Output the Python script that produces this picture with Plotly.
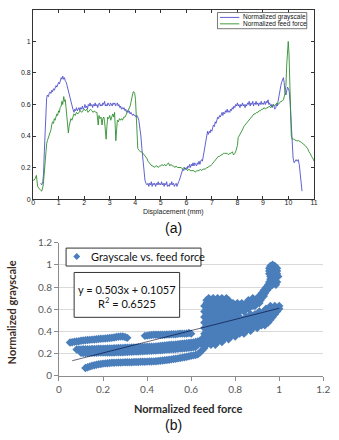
import plotly.graph_objects as go

W, H = 339, 440

# ---------------- data (a) ----------------
grayscale_pts = [(0.30,0.10),(0.34,0.09),(0.38,0.11),(0.41,0.16),(0.44,0.30),(0.47,0.45),(0.50,0.58),(0.53,0.64),(0.56,0.66),(0.60,0.65),(0.63,0.67),(0.66,0.68),(0.70,0.67),(0.73,0.69),(0.76,0.68),(0.80,0.70),(0.83,0.69),(0.86,0.71),(0.90,0.72),(0.93,0.71),(0.96,0.73),(1.00,0.74),(1.03,0.73),(1.06,0.75),(1.10,0.77),(1.13,0.76),(1.16,0.78),(1.20,0.76),(1.23,0.77),(1.26,0.75),(1.30,0.74),(1.33,0.72),(1.36,0.70),(1.40,0.67),(1.43,0.64),(1.46,0.62),(1.50,0.61),(1.53,0.58),(1.56,0.57),(1.60,0.55),(1.63,0.57),(1.66,0.56),(1.70,0.58),(1.73,0.56),(1.76,0.57),(1.80,0.58),(1.83,0.56),(1.86,0.58),(1.90,0.57),(1.93,0.59),(1.96,0.57),(2.00,0.58),(2.03,0.60),(2.06,0.58),(2.10,0.59),(2.13,0.57),(2.16,0.60),(2.20,0.59),(2.23,0.61),(2.26,0.59),(2.30,0.60),(2.33,0.58),(2.36,0.60),(2.40,0.59),(2.43,0.61),(2.46,0.59),(2.50,0.60),(2.53,0.58),(2.56,0.60),(2.60,0.61),(2.63,0.59),(2.66,0.60),(2.70,0.59),(2.73,0.61),(2.76,0.60),(2.80,0.62),(2.83,0.59),(2.86,0.60),(2.90,0.59),(2.93,0.61),(2.96,0.60),(3.00,0.59),(3.03,0.61),(3.06,0.60),(3.10,0.59),(3.13,0.61),(3.16,0.60),(3.20,0.61),(3.23,0.59),(3.26,0.60),(3.30,0.61),(3.33,0.59),(3.36,0.60),(3.40,0.58),(3.43,0.59),(3.46,0.57),(3.50,0.58),(3.53,0.57),(3.56,0.58),(3.60,0.56),(3.63,0.57),(3.66,0.55),(3.70,0.56),(3.73,0.55),(3.76,0.56),(3.80,0.54),(3.83,0.55),(3.86,0.54),(3.90,0.53),(3.93,0.54),(3.96,0.53),(4.00,0.53),(4.03,0.52),(4.06,0.53),(4.10,0.52),(4.14,0.50),(4.18,0.46),(4.22,0.40),(4.26,0.32),(4.30,0.24),(4.34,0.17),(4.38,0.12),(4.42,0.10),(4.46,0.09),(4.50,0.10),(4.53,0.08),(4.56,0.10),(4.60,0.09),(4.63,0.11),(4.66,0.08),(4.70,0.10),(4.73,0.09),(4.76,0.10),(4.80,0.08),(4.83,0.10),(4.86,0.09),(4.90,0.11),(4.93,0.09),(4.96,0.10),(5.00,0.09),(5.03,0.11),(5.06,0.09),(5.10,0.10),(5.13,0.08),(5.16,0.10),(5.20,0.09),(5.23,0.11),(5.26,0.08),(5.30,0.09),(5.33,0.08),(5.36,0.10),(5.40,0.09),(5.43,0.11),(5.46,0.09),(5.50,0.10),(5.53,0.08),(5.56,0.09),(5.60,0.10),(5.63,0.08),(5.66,0.10),(5.70,0.11),(5.73,0.12),(5.76,0.14),(5.80,0.16),(5.83,0.18),(5.86,0.19),(5.90,0.18),(5.93,0.20),(5.96,0.19),(6.00,0.20),(6.03,0.19),(6.06,0.21),(6.10,0.20),(6.13,0.22),(6.16,0.20),(6.20,0.22),(6.23,0.21),(6.26,0.23),(6.30,0.21),(6.33,0.23),(6.36,0.22),(6.40,0.21),(6.43,0.23),(6.46,0.22),(6.50,0.24),(6.53,0.22),(6.56,0.24),(6.60,0.25),(6.63,0.24),(6.66,0.27),(6.70,0.29),(6.73,0.33),(6.76,0.37),(6.80,0.40),(6.83,0.43),(6.86,0.41),(6.90,0.43),(6.93,0.42),(6.96,0.44),(7.00,0.43),(7.03,0.45),(7.06,0.47),(7.10,0.46),(7.13,0.49),(7.16,0.48),(7.20,0.50),(7.23,0.52),(7.26,0.51),(7.30,0.53),(7.33,0.52),(7.36,0.54),(7.40,0.55),(7.43,0.53),(7.46,0.55),(7.50,0.54),(7.53,0.56),(7.56,0.55),(7.60,0.57),(7.63,0.55),(7.66,0.56),(7.70,0.55),(7.73,0.57),(7.76,0.56),(7.80,0.58),(7.83,0.57),(7.86,0.59),(7.90,0.58),(7.93,0.60),(7.96,0.59),(8.00,0.61),(8.03,0.59),(8.06,0.60),(8.10,0.58),(8.13,0.60),(8.16,0.59),(8.20,0.61),(8.23,0.59),(8.26,0.60),(8.30,0.58),(8.33,0.60),(8.36,0.59),(8.40,0.61),(8.43,0.60),(8.46,0.62),(8.50,0.59),(8.53,0.61),(8.56,0.60),(8.60,0.62),(8.63,0.59),(8.66,0.61),(8.70,0.60),(8.73,0.62),(8.76,0.60),(8.80,0.61),(8.83,0.59),(8.86,0.61),(8.90,0.60),(8.93,0.62),(8.96,0.60),(9.00,0.61),(9.03,0.60),(9.06,0.62),(9.10,0.60),(9.13,0.62),(9.16,0.61),(9.20,0.63),(9.23,0.60),(9.26,0.61),(9.30,0.59),(9.33,0.60),(9.36,0.58),(9.40,0.60),(9.43,0.59),(9.46,0.57),(9.50,0.58),(9.53,0.60),(9.56,0.59),(9.60,0.63),(9.63,0.67),(9.66,0.70),(9.70,0.72),(9.73,0.74),(9.76,0.76),(9.80,0.77),(9.83,0.74),(9.86,0.68),(9.90,0.66),(9.93,0.69),(9.96,0.71),(10.00,0.70),(10.03,0.68),(10.06,0.62),(10.10,0.50),(10.14,0.36),(10.18,0.26),(10.22,0.23),(10.26,0.24),(10.30,0.25),(10.34,0.24),(10.38,0.25),(10.42,0.22),(10.46,0.15),(10.50,0.08),(10.53,0.05)]

feed_force_pts = [(0.00,0.12),(0.04,0.12),(0.08,0.13),(0.11,0.14),(0.13,0.15),(0.15,0.12),(0.18,0.08),(0.22,0.07),(0.26,0.06),(0.30,0.055),(0.34,0.05),(0.37,0.07),(0.40,0.09),(0.43,0.15),(0.46,0.23),(0.50,0.30),(0.53,0.35),(0.56,0.37),(0.60,0.39),(0.63,0.40),(0.66,0.42),(0.70,0.44),(0.73,0.47),(0.76,0.49),(0.80,0.48),(0.83,0.51),(0.86,0.50),(0.90,0.52),(0.93,0.54),(0.96,0.53),(1.00,0.56),(1.03,0.55),(1.06,0.58),(1.10,0.59),(1.13,0.62),(1.16,0.60),(1.20,0.65),(1.23,0.62),(1.26,0.63),(1.29,0.58),(1.32,0.52),(1.35,0.45),(1.38,0.42),(1.41,0.46),(1.44,0.49),(1.48,0.51),(1.52,0.50),(1.56,0.53),(1.60,0.54),(1.65,0.53),(1.70,0.55),(1.75,0.54),(1.80,0.55),(1.85,0.56),(1.90,0.55),(1.95,0.56),(2.00,0.57),(2.05,0.56),(2.10,0.57),(2.15,0.55),(2.20,0.56),(2.25,0.57),(2.30,0.56),(2.35,0.55),(2.40,0.56),(2.45,0.55),(2.50,0.55),(2.53,0.50),(2.55,0.47),(2.58,0.53),(2.62,0.51),(2.66,0.52),(2.70,0.47),(2.73,0.51),(2.77,0.52),(2.80,0.49),(2.83,0.44),(2.86,0.38),(2.89,0.46),(2.92,0.52),(2.96,0.51),(3.00,0.53),(3.04,0.50),(3.08,0.52),(3.12,0.54),(3.16,0.52),(3.19,0.55),(3.22,0.45),(3.24,0.37),(3.27,0.44),(3.30,0.50),(3.34,0.49),(3.38,0.51),(3.42,0.50),(3.46,0.51),(3.50,0.50),(3.55,0.52),(3.60,0.52),(3.65,0.54),(3.70,0.55),(3.75,0.57),(3.80,0.59),(3.84,0.62),(3.88,0.65),(3.92,0.68),(3.95,0.68),(3.98,0.67),(4.01,0.63),(4.04,0.50),(4.07,0.36),(4.10,0.32),(4.15,0.31),(4.20,0.30),(4.25,0.30),(4.30,0.29),(4.35,0.28),(4.40,0.27),(4.45,0.26),(4.50,0.24),(4.55,0.23),(4.60,0.22),(4.65,0.21),(4.70,0.21),(4.75,0.20),(4.80,0.21),(4.85,0.21),(4.90,0.20),(4.95,0.21),(5.00,0.21),(5.05,0.22),(5.10,0.21),(5.15,0.22),(5.20,0.21),(5.25,0.22),(5.30,0.23),(5.35,0.21),(5.40,0.22),(5.45,0.21),(5.50,0.21),(5.55,0.20),(5.60,0.21),(5.65,0.20),(5.70,0.20),(5.75,0.20),(5.80,0.20),(5.85,0.19),(5.90,0.20),(5.95,0.19),(6.00,0.19),(6.05,0.18),(6.10,0.19),(6.15,0.18),(6.20,0.18),(6.25,0.18),(6.30,0.18),(6.35,0.17),(6.40,0.18),(6.45,0.18),(6.50,0.18),(6.55,0.19),(6.60,0.18),(6.65,0.19),(6.70,0.19),(6.75,0.19),(6.80,0.20),(6.85,0.20),(6.90,0.21),(6.95,0.21),(7.00,0.22),(7.05,0.23),(7.10,0.24),(7.15,0.25),(7.20,0.26),(7.25,0.27),(7.30,0.27),(7.35,0.28),(7.40,0.28),(7.45,0.29),(7.50,0.29),(7.55,0.29),(7.60,0.29),(7.65,0.28),(7.70,0.29),(7.75,0.29),(7.80,0.30),(7.85,0.28),(7.90,0.29),(7.95,0.31),(8.00,0.34),(8.03,0.39),(8.07,0.40),(8.10,0.41),(8.15,0.42),(8.20,0.44),(8.25,0.46),(8.30,0.47),(8.35,0.48),(8.40,0.49),(8.45,0.50),(8.50,0.51),(8.55,0.52),(8.60,0.53),(8.65,0.54),(8.70,0.54),(8.75,0.55),(8.80,0.55),(8.85,0.56),(8.90,0.56),(8.95,0.57),(9.00,0.57),(9.05,0.58),(9.10,0.57),(9.15,0.58),(9.20,0.58),(9.25,0.59),(9.30,0.58),(9.35,0.59),(9.40,0.60),(9.45,0.59),(9.50,0.60),(9.55,0.61),(9.60,0.60),(9.65,0.61),(9.70,0.62),(9.75,0.62),(9.80,0.63),(9.85,0.66),(9.90,0.72),(9.93,0.85),(9.96,0.95),(9.99,1.00),(10.02,0.92),(10.05,0.70),(10.08,0.50),(10.11,0.40),(10.15,0.38),(10.20,0.38),(10.30,0.37),(10.40,0.37),(10.50,0.36),(10.60,0.35),(10.65,0.34),(10.70,0.33),(10.75,0.32),(10.80,0.30),(10.85,0.29),(10.90,0.27),(10.95,0.26),(11.00,0.24)]

a_xticks = [0, 1, 2, 3, 4, 5, 6, 7, 8, 9, 10, 11]
a_yticks = [0, 0.2, 0.4, 0.6, 0.8, 1]
a_yticklabels = ["0", "0.2", "0.4", "0.6", "0.8", "1"]

# ---------------- data (b): points ----------------
band_upper_left = [(0.05,0.30),(0.06,0.303),(0.07,0.306),(0.08,0.309),(0.09,0.312),(0.10,0.316),(0.11,0.318),(0.12,0.32),(0.13,0.322),(0.14,0.324),(0.15,0.326),(0.16,0.328),(0.17,0.33),(0.18,0.332),(0.19,0.334),(0.20,0.335),(0.21,0.337),(0.22,0.339),(0.23,0.341),(0.24,0.343),(0.25,0.346),(0.26,0.349),(0.27,0.352),(0.28,0.354),(0.29,0.354),(0.30,0.35),(0.31,0.342)]
band_upper_mid = [(0.39,0.36),(0.40,0.362),(0.41,0.365),(0.42,0.367),(0.43,0.37),(0.44,0.37),(0.45,0.37),(0.46,0.37),(0.47,0.37),(0.48,0.37),(0.49,0.372),(0.50,0.372),(0.51,0.375),(0.52,0.375),(0.53,0.375),(0.54,0.378),(0.55,0.38),(0.56,0.38),(0.57,0.38),(0.58,0.382),(0.59,0.385),(0.60,0.38)]
band_mid_upper = [(0.08,0.238),(0.09,0.238),(0.10,0.238),(0.11,0.239),(0.12,0.239),(0.13,0.24),(0.14,0.24),(0.15,0.241),(0.16,0.242),(0.17,0.242),(0.18,0.243),(0.19,0.244),(0.20,0.244),(0.21,0.245),(0.22,0.246),(0.23,0.246),(0.24,0.247),(0.25,0.248),(0.26,0.249),(0.27,0.25),(0.28,0.25),(0.29,0.251),(0.30,0.252),(0.31,0.253),(0.32,0.254),(0.33,0.255),(0.34,0.256),(0.35,0.256),(0.36,0.257),(0.37,0.258),(0.38,0.259),(0.39,0.26),(0.40,0.261),(0.41,0.262),(0.42,0.262),(0.43,0.263),(0.44,0.265),(0.45,0.267),(0.46,0.269),(0.47,0.271),(0.48,0.273),(0.49,0.275),(0.50,0.277),(0.51,0.279),(0.52,0.281),(0.53,0.283),(0.54,0.285),(0.55,0.287),(0.56,0.289),(0.57,0.291),(0.58,0.294),(0.59,0.296),(0.60,0.298),(0.61,0.30),(0.62,0.305),(0.63,0.31),(0.64,0.315)]
band_mid_lower = [(0.10,0.207),(0.11,0.206),(0.12,0.206),(0.13,0.206),(0.14,0.207),(0.15,0.207),(0.16,0.208),(0.17,0.208),(0.18,0.209),(0.19,0.209),(0.20,0.21),(0.21,0.21),(0.22,0.21),(0.23,0.211),(0.24,0.211),(0.25,0.211),(0.26,0.212),(0.27,0.212),(0.28,0.212),(0.29,0.213),(0.30,0.214),(0.31,0.215),(0.32,0.216),(0.33,0.217),(0.34,0.218),(0.35,0.219),(0.36,0.22),(0.37,0.221),(0.38,0.222),(0.39,0.223),(0.40,0.224),(0.41,0.225),(0.42,0.226),(0.43,0.227),(0.44,0.228),(0.45,0.23),(0.46,0.231),(0.47,0.233),(0.48,0.234),(0.49,0.236),(0.50,0.237),(0.51,0.239),(0.52,0.24),(0.53,0.242),(0.54,0.243),(0.55,0.245),(0.56,0.247),(0.57,0.249),(0.58,0.251),(0.59,0.253),(0.60,0.255),(0.61,0.257),(0.62,0.26)]
band_lowest = [(0.12,0.07),(0.13,0.077),(0.14,0.084),(0.15,0.09),(0.16,0.095),(0.17,0.10),(0.18,0.104),(0.19,0.107),(0.20,0.11),(0.21,0.112),(0.22,0.114),(0.23,0.116),(0.24,0.117),(0.25,0.118),(0.26,0.119),(0.27,0.12),(0.28,0.12),(0.29,0.121),(0.30,0.122),(0.31,0.122),(0.32,0.123),(0.33,0.123),(0.34,0.124),(0.35,0.125),(0.36,0.125),(0.37,0.126),(0.38,0.127),(0.39,0.127),(0.40,0.128),(0.41,0.129),(0.42,0.129),(0.43,0.13),(0.44,0.132),(0.45,0.134),(0.46,0.136),(0.47,0.138),(0.48,0.14),(0.49,0.142),(0.50,0.145),(0.51,0.148),(0.52,0.151),(0.53,0.154),(0.54,0.157),(0.55,0.16),(0.56,0.164),(0.57,0.168),(0.58,0.172),(0.59,0.176),(0.60,0.18),(0.61,0.184),(0.62,0.188),(0.63,0.195),(0.64,0.21),(0.65,0.23),(0.66,0.25)]
cluster_rows = [
    (0.280, [0.63,0.65,0.67,0.69,0.71]),
    (0.305, [0.64,0.66,0.68,0.70,0.72,0.74]),
    (0.330, [0.65,0.67,0.69,0.71,0.73,0.75,0.77]),
    (0.355, [0.66,0.68,0.70,0.72,0.74,0.76,0.78,0.80]),
    (0.380, [0.66,0.68,0.70,0.72,0.74,0.76,0.78,0.80,0.82,0.84]),
    (0.405, [0.67,0.69,0.71,0.73,0.75,0.77,0.79,0.81,0.83,0.85,0.87]),
    (0.430, [0.66,0.68,0.70,0.72,0.74,0.76,0.78,0.82,0.84,0.86,0.88,0.90]),
    (0.455, [0.67,0.69,0.71,0.74,0.76,0.78,0.80,0.82,0.84,0.86,0.88,0.90,0.92,0.935]),
    (0.480, [0.66,0.68,0.70,0.72,0.74,0.76,0.78,0.80,0.82,0.84,0.86,0.88,0.90,0.92,0.94,0.95]),
    (0.505, [0.67,0.69,0.71,0.73,0.75,0.77,0.79,0.81,0.83,0.85,0.87,0.89,0.91,0.93,0.95,0.96]),
    (0.530, [0.66,0.68,0.70,0.72,0.74,0.76,0.78,0.80,0.82,0.85,0.87,0.89,0.91,0.93,0.95,0.97]),
    (0.555, [0.67,0.69,0.71,0.73,0.75,0.77,0.79,0.81,0.87,0.89,0.91,0.93,0.95,0.97,0.98]),
    (0.580, [0.66,0.68,0.70,0.72,0.74,0.76,0.78,0.80,0.82,0.84,0.91,0.93,0.95,0.97,0.99]),
    (0.605, [0.67,0.69,0.71,0.73,0.75,0.77,0.79,0.81,0.83,0.85,0.86,0.94,0.96,0.98,1.0]),
    (0.630, [0.66,0.68,0.70,0.72,0.74,0.76,0.78,0.80,0.82,0.84,0.86,0.88,0.89,0.96,0.98,1.0]),
    (0.655, [0.67,0.69,0.71,0.73,0.75,0.77,0.79,0.81,0.83,0.85,0.87,0.89,0.91]),
    (0.680, [0.67,0.69,0.71,0.73,0.75,0.77,0.86,0.88,0.90,0.915]),
    (0.700, [0.68,0.70,0.72,0.74,0.76,0.88,0.90,0.92]),
]
band_upper_arm = [(0.91,0.72),(0.93,0.72),(0.92,0.745),(0.935,0.745),(0.93,0.77),(0.945,0.77),(0.94,0.795),(0.955,0.795),(0.95,0.82),(0.97,0.82),(0.985,0.82),(0.955,0.845),(0.975,0.845),(0.99,0.845),(0.96,0.87),(0.98,0.87),(0.96,0.895),(0.98,0.895),(0.995,0.895),(0.955,0.92),(0.975,0.92),(0.99,0.92),(0.955,0.945),(0.975,0.945),(0.99,0.945),(0.955,0.97),(0.97,0.97),(0.99,0.97),(0.96,0.99),(0.98,0.99),(0.97,1.0)]

trend_slope = 0.503
trend_intercept = 0.1057
trend_r2 = 0.6525
trend_x = [0.06, 1.0]

b_ticks = [0, 0.2, 0.4, 0.6, 0.8, 1, 1.2]
b_ticklabels = ["0", "0.2", "0.4", "0.6", "0.8", "1", "1.2"]

# ---------------- helpers (pixel -> paper) ----------------
def px(x):
    return x / W

def py(y):
    return 1 - y / H

BLUE = "#5050cc"
GREEN = "#2f8f2f"
XLS_BLUE = "#4a7ebb"

fig = go.Figure()

gx = [p[0] for p in grayscale_pts]
gy = [p[1] for p in grayscale_pts]
fx = [p[0] for p in feed_force_pts]
fy = [p[1] for p in feed_force_pts]

fig.add_trace(go.Scatter(x=gx, y=gy, mode="lines", name="Normalized grayscale",
                         line=dict(color=BLUE, width=0.9), xaxis="x", yaxis="y",
                         showlegend=False))
fig.add_trace(go.Scatter(x=fx, y=fy, mode="lines", name="Normalized feed force",
                         line=dict(color=GREEN, width=0.9), xaxis="x", yaxis="y",
                         showlegend=False))

sx, sy = [], []
for band in (band_upper_left, band_upper_mid, band_mid_upper, band_mid_lower, band_lowest, band_upper_arm):
    sx += [p[0] for p in band]
    sy += [p[1] for p in band]
for yv, xs in cluster_rows:
    sx += xs
    sy += [yv] * len(xs)

fig.add_trace(go.Scatter(x=sx, y=sy, mode="markers", name="Grayscale vs. feed force",
                         marker=dict(symbol="diamond", size=6.5, color=XLS_BLUE, line=dict(width=0)),
                         xaxis="x2", yaxis="y2", showlegend=False))

trend_y = [trend_slope * x + trend_intercept for x in trend_x]
fig.add_trace(go.Scatter(x=trend_x, y=trend_y, mode="lines", name="Linear trend",
                         line=dict(color="rgba(0,0,40,0.6)", width=1),
                         xaxis="x2", yaxis="y2", showlegend=False))

# plot box pixel positions
A_L, A_R, A_T, A_B = 31, 320.5, 4, 198
B_L, B_R, B_T, B_B = 57.7, 330, 242.7, 379.3

axis_a = dict(showline=True, linecolor="#333", linewidth=1, mirror="ticks",
              ticks="inside", ticklen=3, tickcolor="#333", showgrid=False, zeroline=False,
              tickfont=dict(family="Liberation Sans", size=7, color="#222"))

fig.update_layout(
    width=W, height=H,
    margin=dict(l=0, r=0, t=0, b=0),
    paper_bgcolor="white", plot_bgcolor="white",
    showlegend=False,
    xaxis=dict(axis_a, domain=[px(A_L), px(A_R)], range=[0, 11], tickvals=a_xticks,
               anchor="y", ticklabelstandoff=-3),
    yaxis=dict(axis_a, domain=[py(A_B), py(A_T)], range=[0, 1.2], tickvals=a_yticks,
               ticktext=a_yticklabels, anchor="x"),
    xaxis2=dict(domain=[px(B_L), px(B_R)], range=[0, 1.2], tickvals=b_ticks, ticktext=b_ticklabels,
                showline=True, linecolor="#8c8c8c", linewidth=1, ticks="outside", ticklen=4,
                tickcolor="#8c8c8c", showgrid=False, zeroline=False, anchor="y2",
                tickfont=dict(family="Lato", size=10, color="#595959")),
    yaxis2=dict(domain=[py(B_B), py(B_T)], range=[0, 1.2], tickvals=b_ticks, ticktext=b_ticklabels,
                showline=True, linecolor="#8c8c8c", linewidth=1, ticks="outside", ticklen=4,
                tickcolor="#8c8c8c", showgrid=True, gridcolor="#d9d9d9", gridwidth=1,
                zeroline=False, anchor="x2",
                tickfont=dict(family="Lato", size=10, color="#595959")),
)

shapes = []
annotations = []

# legend (a)
shapes.append(dict(type="rect", xref="paper", yref="paper", x0=px(221), x1=px(313), y0=py(23.3), y1=py(6.7),
                   line=dict(color="#555", width=0.8), fillcolor="white", layer="above"))
for yy, col, txt in ((11.7, BLUE, "Normalized grayscale"), (18.3, GREEN, "Normalized feed force")):
    shapes.append(dict(type="line", xref="paper", yref="paper", x0=px(223.5), x1=px(243.5), y0=py(yy), y1=py(yy),
                       line=dict(color=col, width=0.9), layer="above"))
    annotations.append(dict(xref="paper", yref="paper", x=px(245), y=py(yy), text=txt, showarrow=False,
                            xanchor="left", yanchor="middle",
                            font=dict(family="Liberation Sans", size=6.5, color="#111")))

annotations.append(dict(xref="paper", yref="paper", x=px(175.7), y=py(211), text="Displacement (mm)",
                        showarrow=False, xanchor="center", yanchor="middle",
                        font=dict(family="Liberation Sans", size=7, color="#222")))
annotations.append(dict(xref="paper", yref="paper", x=px(175.5), y=py(228), text="(a)",
                        showarrow=False, xanchor="center", yanchor="middle",
                        font=dict(family="Liberation Sans", size=14, color="#111")))
annotations.append(dict(xref="paper", yref="paper", x=px(175.5), y=py(430), text="(b)",
                        showarrow=False, xanchor="center", yanchor="middle",
                        font=dict(family="Liberation Sans", size=14, color="#111")))

# axis titles (b)
annotations.append(dict(xref="paper", yref="paper", x=px(191), y=py(413), text="<b>Normalized feed force</b>",
                        showarrow=False, xanchor="center", yanchor="middle",
                        font=dict(family="Lato", size=11, color="#2b2b2b")))
annotations.append(dict(xref="paper", yref="paper", x=px(8.5), y=py(314), text="<b>Normalized grayscale</b>",
                        showarrow=False, xanchor="center", yanchor="middle", textangle=-90,
                        font=dict(family="Lato", size=11, color="#3d2b1f")))

# legend (b)
shapes.append(dict(type="rect", xref="paper", yref="paper", x0=px(65), x1=px(204), y0=py(266.7), y1=py(248.3),
                   line=dict(color="#333", width=1), fillcolor="white", layer="above"))
dx, dy = 3.6 / W, 3.6 / H
cx, cy = px(76), py(257)
shapes.append(dict(type="path", xref="paper", yref="paper",
                   path=f"M {cx-dx},{cy} L {cx},{cy+dy} L {cx+dx},{cy} L {cx},{cy-dy} Z",
                   fillcolor=XLS_BLUE, line=dict(width=0), layer="above"))
annotations.append(dict(xref="paper", yref="paper", x=px(89), y=py(257), text="Grayscale vs. feed force",
                        showarrow=False, xanchor="left", yanchor="middle",
                        font=dict(family="Lato", size=11, color="#111")))

# equation box (b)
shapes.append(dict(type="rect", xref="paper", yref="paper", x0=px(73.3), x1=px(182), y0=py(319.3), y1=py(273.3),
                   line=dict(color="#333", width=1), fillcolor="white", layer="above"))
annotations.append(dict(xref="paper", yref="paper", x=px(127.7), y=py(290.5),
                        text=f"y = {trend_slope}x + {trend_intercept}",
                        showarrow=False, xanchor="center", yanchor="middle",
                        font=dict(family="Lato", size=11, color="#111")))
annotations.append(dict(xref="paper", yref="paper", x=px(127.7), y=py(304),
                        text=f"R<sup>2</sup> = {trend_r2}",
                        showarrow=False, xanchor="center", yanchor="middle",
                        font=dict(family="Lato", size=11, color="#111")))

fig.update_layout(shapes=shapes, annotations=annotations)

fig.write_html("out.html")
